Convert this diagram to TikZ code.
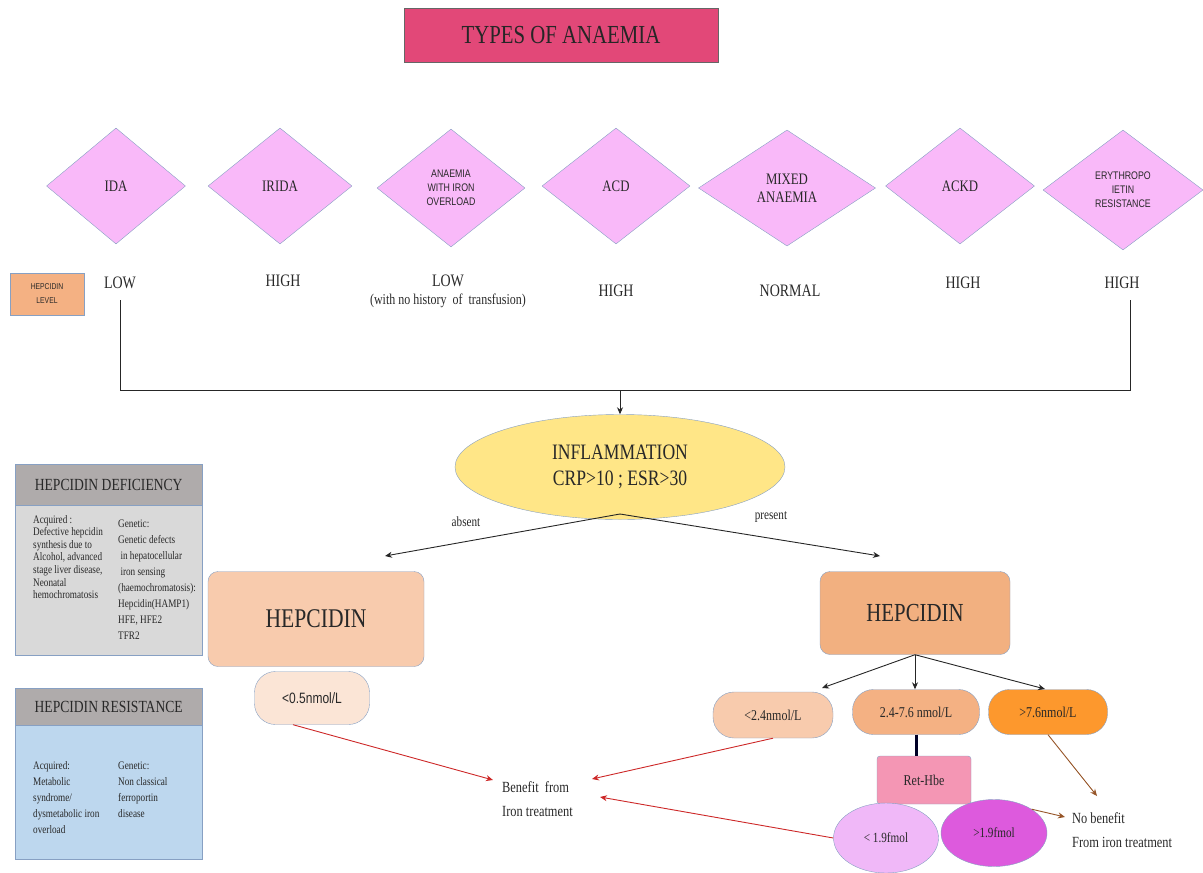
\documentclass[tikz,border=0pt]{standalone}
\usepackage{fontspec}
\setmainfont{Liberation Serif}[FakeStretch=0.8]
\setsansfont{Liberation Sans}[FakeStretch=0.8]
\usetikzlibrary{shapes.geometric,arrows.meta}
\definecolor{txt}{RGB}{40,40,40}
\definecolor{bord}{RGB}{135,160,195}
\definecolor{diafill}{RGB}{249,185,249}
\definecolor{titlefill}{RGB}{226,72,120}
\definecolor{lvlfill}{RGB}{244,177,131}
\definecolor{inflfill}{RGB}{255,230,135}
\definecolor{hepLfill}{RGB}{248,203,173}
\definecolor{hepRfill}{RGB}{242,176,128}
\definecolor{pillA}{RGB}{251,229,214}
\definecolor{pillB}{RGB}{248,203,173}
\definecolor{pillC}{RGB}{244,177,131}
\definecolor{pillD}{RGB}{253,152,45}
\definecolor{retfill}{RGB}{244,150,180}
\definecolor{elA}{RGB}{240,184,248}
\definecolor{elB}{RGB}{221,90,221}
\definecolor{hdrgray}{RGB}{175,171,171}
\definecolor{bodygray}{RGB}{217,217,217}
\definecolor{bodyblue}{RGB}{189,215,238}
\definecolor{redline}{RGB}{205,40,40}
\definecolor{brownline}{RGB}{150,85,40}
\begin{document}
\begin{tikzpicture}[x=1pt,y=-1pt,
  every node/.style={text=txt},
  conn/.style={draw=black!85, line width=0.9pt},
  arr/.style={conn, -{Stealth[length=7pt,width=6pt]}},
  redarr/.style={draw=redline, line width=0.9pt, -{Stealth[length=7pt,width=6pt]}},
  brarr/.style={draw=brownline, line width=0.9pt, -{Stealth[length=7pt,width=6pt]}},
  dia/.style={diamond, draw=bord, fill=diafill, inner sep=0pt, align=center, font=\fontsize{16}{18}\selectfont},
  smalldia/.style={font=\sffamily\fontsize{11}{14}\selectfont},
  lvl/.style={font=\fontsize{17.5}{19}\selectfont, inner sep=0pt},
  plain/.style={font=\fontsize{15.5}{24}\selectfont, align=left, inner sep=0pt},
  pill/.style={draw=bord, rounded corners=21pt, font=\fontsize{15}{17}\selectfont, inner sep=0pt},
  hdr/.style={draw=bord, fill=hdrgray, font=\fontsize{17}{19}\selectfont, inner sep=0pt},
  body/.style={draw=bord, inner sep=0pt},
  ptxt/.style={font=\fontsize{11.5}{12.6}\selectfont, align=left, inner sep=0pt, anchor=north west}
]
\useasboundingbox (0,0) rectangle (1203,873);

% title
\node[draw=black!60, fill=titlefill, minimum width=314, minimum height=54, font=\fontsize{26}{28}\selectfont, text=black!85] (title) at (561,35) {TYPES OF ANAEMIA};

% diamonds
\node[dia, minimum width=139, minimum height=116] (ida) at (116,186) {IDA};
\node[dia, minimum width=144, minimum height=116] (irida) at (280,186) {IRIDA};
\node[dia, smalldia, minimum width=148, minimum height=118] (over) at (451,188) {ANAEMIA\\WITH IRON\\OVERLOAD};
\node[dia, minimum width=148, minimum height=116] (acd) at (616,186) {ACD};
\node[dia, minimum width=177, minimum height=116] (mixed) at (787,188) {MIXED\\ANAEMIA};
\node[dia, minimum width=149, minimum height=116] (ackd) at (960,186) {ACKD};
\node[dia, smalldia, minimum width=160, minimum height=120] (epo) at (1123,190) {ERYTHROPO\\IETIN\\RESISTANCE};

% hepcidin level
\node[draw=bord, fill=lvlfill, minimum width=74, minimum height=42, align=center, font=\sffamily\fontsize{8.5}{14}\selectfont, inner sep=0pt] (lvlbox) at (47,294) {HEPCIDIN\\LEVEL};
\node[lvl] (lv1) at (120,283) {LOW};
\node[lvl] (lv2) at (283,281) {HIGH};
\node[lvl] (lv3) at (448,281) {LOW};
\node[font=\fontsize{15}{17}\selectfont, inner sep=0pt] (lv3b) at (448,301) {(with no history\ \ of\ \ transfusion)};
\node[lvl] (lv4) at (616,291) {HIGH};
\node[lvl] (lv5) at (790,291) {NORMAL};
\node[lvl] (lv6) at (963,283) {HIGH};
\node[lvl] (lv7) at (1122,283) {HIGH};

% bracket
\coordinate (tl) at (120,300);
\coordinate (bl) at (120,390);
\coordinate (tr) at (1130,300);
\coordinate (br) at (1130,390);
\coordinate (bm) at (620,390);
\draw[conn] (tl) -- (bl) -- (br) -- (tr);

% inflammation
\node[ellipse, draw=bord, fill=inflfill, minimum width=330, minimum height=105, inner sep=0pt, align=center, font=\fontsize{22}{26}\selectfont] (infl) at (620,467) {INFLAMMATION\\CRP>10 ; ESR>30};
\draw[arr] (bm) -- (infl.north);

\coordinate (aL) at (385,556);
\coordinate (aR) at (880,556);
\coordinate (ib) at (620,514);
\draw[arr] (ib) -- (aL);
\draw[arr] (ib) -- (aR);
\node[font=\fontsize{14}{16}\selectfont, inner sep=0pt] (absent) at (466,522) {absent};
\node[font=\fontsize{14}{16}\selectfont, inner sep=0pt] (present) at (771,517) {present};

% hepcidin boxes
\node[draw=bord, fill=hepLfill, rounded corners=10pt, minimum width=216, minimum height=95, font=\fontsize{27}{29}\selectfont] (hepL) at (316,619) {HEPCIDIN};
\node[draw=bord, fill=hepRfill, rounded corners=10pt, minimum width=190, minimum height=83, font=\fontsize{26}{28}\selectfont] (hepR) at (915,613) {HEPCIDIN};

% pills
\node[pill, fill=pillA, minimum width=115, minimum height=53, font=\sffamily\fontsize{15}{17}\selectfont] (p05) at (312,698) {<0.5nmol/L};
\node[pill, fill=pillB, minimum width=120, minimum height=46] (p24) at (773,715) {<2.4nmol/L};
\node[pill, fill=pillC, minimum width=127, minimum height=45] (pmid) at (916,712) {2.4-7.6 nmol/L};
\node[pill, fill=pillD, minimum width=119, minimum height=45] (p76) at (1048,712) {>7.6nmol/L};

\coordinate (c24) at (822,688);
\coordinate (c76) at (1045,689);
\draw[arr] (hepR.south) -- (c24);
\draw[arr] (hepR.south) -- (hepR.south |- pmid.north);
\draw[arr] (hepR.south) -- (c76);

% ret-hbe
\node[draw=bord, fill=retfill, rounded corners=3pt, minimum width=94, minimum height=48, font=\fontsize{15}{17}\selectfont] (ret) at (924,780) {Ret-Hbe};
\draw[draw=black!85!blue, line width=3pt] (pmid.south) -- (pmid.south |- ret.north);

% ellipses
\node[ellipse, draw=bord, fill=elA, minimum width=105, minimum height=70, inner sep=0pt, font=\fontsize{14}{16}\selectfont] (e1) at (886,838) {< 1.9fmol};
\node[ellipse, draw=bord, fill=elB, minimum width=106, minimum height=67, inner sep=0pt, font=\fontsize{14}{16}\selectfont] (e2) at (994,833) {>1.9fmol};

% outcome texts
\node[plain, anchor=west] (ben) at (502,799) {Benefit\ \ from\\Iron treatment};
\node[plain, anchor=west] (noben) at (1072,830) {No benefit\\From iron treatment};

\coordinate (r1) at (493,780);
\coordinate (r2) at (592,779);
\coordinate (r3) at (600,797);
\draw[redarr] ([xshift=-19]p05.south) -- (r1);
\draw[redarr] (p24.south) -- (r2);
\draw[redarr] (e1.west) -- (r3);

\coordinate (b1) at (1097,796);
\coordinate (b2) at (1065,817);
\draw[brarr] (p76.south) -- (b1);
\draw[brarr] (e2.north east) -- (b2);

% hepcidin deficiency panel
\node[body, fill=bodygray, minimum width=187, minimum height=150, anchor=north west] (defb) at (15,505) {};
\node[hdr, minimum width=187, minimum height=41, anchor=north west] (defh) at (15,464) {HEPCIDIN DEFICIENCY};
\node[ptxt] (defl) at (33,515) {Acquired :\\Defective hepcidin\\synthesis due to\\Alcohol, advanced\\stage liver disease,\\Neonatal\\hemochromatosis};
\node[ptxt, font=\fontsize{11.5}{16}\selectfont] (defr) at (118,520) {Genetic:\\Genetic defects\\\ in hepatocellular\\\ iron sensing\\(haemochromatosis):\\Hepcidin(HAMP1)\\HFE, HFE2\\TFR2};

% hepcidin resistance panel
\node[body, fill=bodyblue, minimum width=187, minimum height=134, anchor=north west] (resb) at (15,725) {};
\node[hdr, minimum width=187, minimum height=37, anchor=north west] (resh) at (15,688) {HEPCIDIN RESISTANCE};
\node[ptxt, font=\fontsize{11.5}{16}\selectfont] (resl) at (33,761) {Acquired:\\Metabolic\\syndrome/\\dysmetabolic iron\\overload};
\node[ptxt, font=\fontsize{11.5}{16}\selectfont] (resr) at (118,762) {Genetic:\\Non classical\\ferroportin\\disease};
\end{tikzpicture}
\end{document}
